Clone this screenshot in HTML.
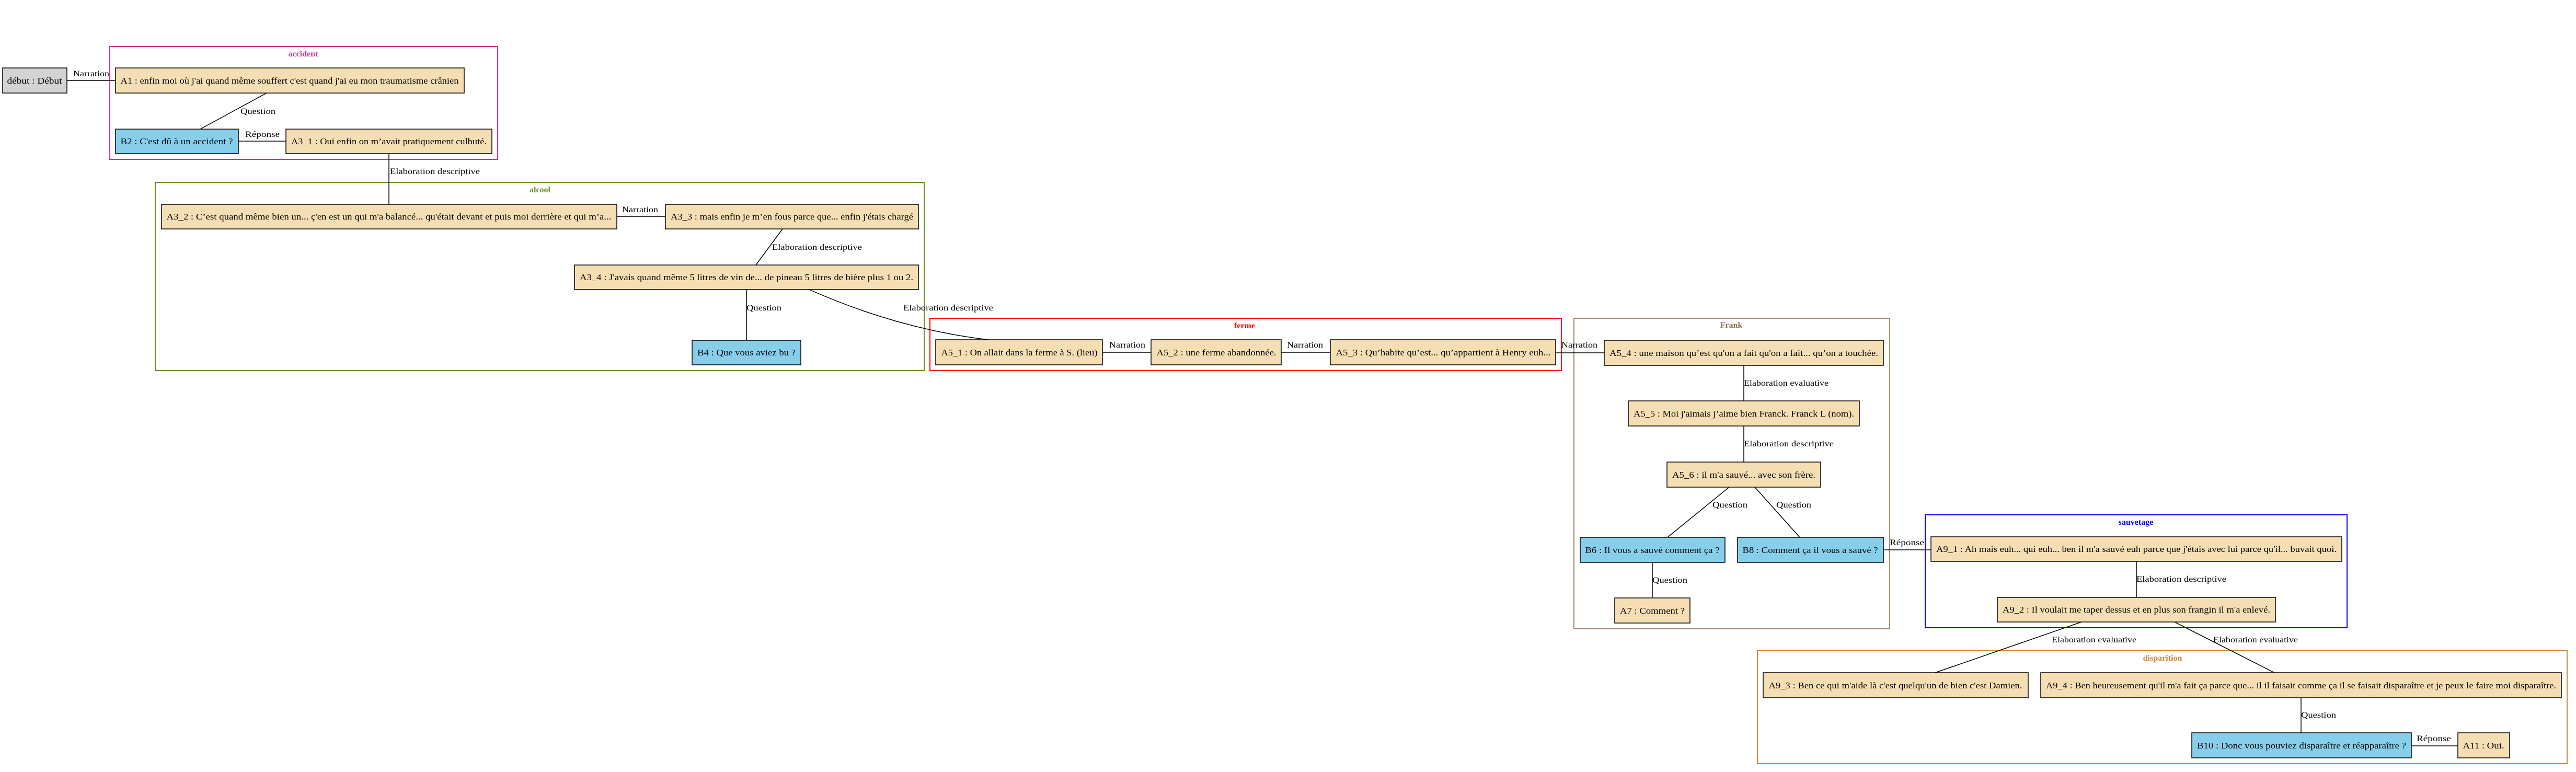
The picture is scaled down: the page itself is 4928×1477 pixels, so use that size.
<!DOCTYPE html>
<html><head><meta charset="utf-8"><style>
html,body{margin:0;padding:0;background:#fff;}
svg{display:block;}
text{font-family:"Liberation Serif",serif;fill:#000;}
.n{font-size:17px;}
.l{font-size:16px;}
.t{font-size:16px;font-weight:bold;}
.e{stroke:#000;stroke-width:1.5;fill:none;}
</style></head><body>
<svg width="4928" height="1477" viewBox="0 0 4928 1477" xmlns="http://www.w3.org/2000/svg">
<!-- clusters -->
<rect x="210" y="89" width="742" height="216" fill="none" stroke="#cc3399" stroke-width="2"/>
<text class="t" x="580" y="108" text-anchor="middle" style="fill:#cc3399">accident</text>
<rect x="297" y="349" width="1471" height="360" fill="none" stroke="#6b8e23" stroke-width="2"/>
<text class="t" x="1033" y="368" text-anchor="middle" style="fill:#6b8e23">alcool</text>
<rect x="1779" y="609" width="1208" height="100" fill="none" stroke="#ff0000" stroke-width="2"/>
<text class="t" x="2381" y="628" text-anchor="middle" style="fill:#ff0000">ferme</text>
<rect x="3011" y="609" width="604" height="594" fill="none" stroke="#a08870" stroke-width="2"/>
<text class="t" x="3312" y="627" text-anchor="middle" style="fill:#8b7355">Frank</text>
<rect x="3683" y="985" width="807" height="216" fill="none" stroke="#0000ff" stroke-width="2"/>
<text class="t" x="4086" y="1004" text-anchor="middle" style="fill:#0000ff">sauvetage</text>
<rect x="3362" y="1245" width="1549" height="216" fill="none" stroke="#cd853f" stroke-width="2"/>
<text class="t" x="4137" y="1264" text-anchor="middle" style="fill:#cd853f">disparition</text>

<!-- edges -->
<g class="e">
<line x1="128" y1="154" x2="221" y2="154"/>
<line x1="510" y1="178" x2="383" y2="247"/>
<line x1="456" y1="270" x2="547" y2="270"/>
<line x1="744" y1="294" x2="744" y2="391"/>
<line x1="1180" y1="414" x2="1273" y2="414"/>
<line x1="1497" y1="438" x2="1446" y2="507"/>
<line x1="1428" y1="554" x2="1428" y2="651"/>
<path d="M1548 554 Q1720 630 1891 650"/>
<line x1="2109" y1="674" x2="2202" y2="674"/>
<line x1="2451" y1="674" x2="2545" y2="674"/>
<line x1="2976" y1="675" x2="3069" y2="675"/>
<line x1="3336" y1="699" x2="3336" y2="767"/>
<line x1="3336" y1="815" x2="3336" y2="884"/>
<line x1="3308" y1="932" x2="3190" y2="1028"/>
<line x1="3357" y1="932" x2="3443" y2="1028"/>
<line x1="3161" y1="1076" x2="3161" y2="1144"/>
<line x1="3603" y1="1052" x2="3694" y2="1052"/>
<line x1="4087" y1="1074" x2="4087" y2="1143"/>
<line x1="3982" y1="1190" x2="3702" y2="1287"/>
<line x1="4160" y1="1190" x2="4351" y2="1287"/>
<line x1="4402" y1="1335" x2="4402" y2="1402"/>
<line x1="4613" y1="1427" x2="4702" y2="1427"/>
</g>
<!-- edge labels -->
<g class="l">
<text x="140" y="146" textLength="69" lengthAdjust="spacingAndGlyphs">Narration</text>
<text x="460" y="218" textLength="67" lengthAdjust="spacingAndGlyphs">Question</text>
<text x="469" y="262" textLength="66" lengthAdjust="spacingAndGlyphs">Réponse</text>
<text x="746" y="333" textLength="172" lengthAdjust="spacingAndGlyphs">Elaboration descriptive</text>
<text x="1190" y="406" textLength="69" lengthAdjust="spacingAndGlyphs">Narration</text>
<text x="1477" y="478" textLength="172" lengthAdjust="spacingAndGlyphs">Elaboration descriptive</text>
<text x="1428" y="594" textLength="67" lengthAdjust="spacingAndGlyphs">Question</text>
<text x="1728" y="594" textLength="172" lengthAdjust="spacingAndGlyphs">Elaboration descriptive</text>
<text x="2122" y="665" textLength="69" lengthAdjust="spacingAndGlyphs">Narration</text>
<text x="2462" y="665" textLength="69" lengthAdjust="spacingAndGlyphs">Narration</text>
<text x="2987" y="665" textLength="69" lengthAdjust="spacingAndGlyphs">Narration</text>
<text x="3336" y="738" textLength="162" lengthAdjust="spacingAndGlyphs">Elaboration evaluative</text>
<text x="3336" y="854" textLength="172" lengthAdjust="spacingAndGlyphs">Elaboration descriptive</text>
<text x="3276" y="971" textLength="67" lengthAdjust="spacingAndGlyphs">Question</text>
<text x="3398" y="971" textLength="67" lengthAdjust="spacingAndGlyphs">Question</text>
<text x="3161" y="1115" textLength="67" lengthAdjust="spacingAndGlyphs">Question</text>
<text x="3615" y="1043" textLength="66" lengthAdjust="spacingAndGlyphs">Réponse</text>
<text x="4087" y="1113" textLength="172" lengthAdjust="spacingAndGlyphs">Elaboration descriptive</text>
<text x="3925" y="1229" textLength="162" lengthAdjust="spacingAndGlyphs">Elaboration evaluative</text>
<text x="4234" y="1229" textLength="162" lengthAdjust="spacingAndGlyphs">Elaboration evaluative</text>
<text x="4402" y="1373" textLength="67" lengthAdjust="spacingAndGlyphs">Question</text>
<text x="4623" y="1418" textLength="66" lengthAdjust="spacingAndGlyphs">Réponse</text>
</g>

<!-- nodes -->
<g class="n" stroke="#000" stroke-width="1.5">
<rect x="5" y="130" width="123" height="48" fill="#d3d3d3"/>
<rect x="221" y="130" width="667" height="48" fill="#f5deb3"/>
<rect x="221" y="247" width="235" height="47" fill="#87ceeb"/>
<rect x="547" y="247" width="394" height="47" fill="#f5deb3"/>
<rect x="309" y="391" width="871" height="47" fill="#f5deb3"/>
<rect x="1273" y="391" width="484" height="47" fill="#f5deb3"/>
<rect x="1099" y="507" width="658" height="47" fill="#f5deb3"/>
<rect x="1324" y="651" width="208" height="47" fill="#87ceeb"/>
<rect x="1790" y="650" width="319" height="48" fill="#f5deb3"/>
<rect x="2202" y="650" width="249" height="48" fill="#f5deb3"/>
<rect x="2545" y="650" width="431" height="48" fill="#f5deb3"/>
<rect x="3069" y="651" width="534" height="48" fill="#f5deb3"/>
<rect x="3115" y="767" width="442" height="48" fill="#f5deb3"/>
<rect x="3189" y="884" width="294" height="48" fill="#f5deb3"/>
<rect x="3023" y="1028" width="277" height="48" fill="#87ceeb"/>
<rect x="3324" y="1028" width="279" height="48" fill="#87ceeb"/>
<rect x="3089" y="1144" width="144" height="48" fill="#f5deb3"/>
<rect x="3694" y="1027" width="786" height="47" fill="#f5deb3"/>
<rect x="3821" y="1143" width="532" height="47" fill="#f5deb3"/>
<rect x="3373" y="1287" width="507" height="48" fill="#f5deb3"/>
<rect x="3904" y="1287" width="996" height="48" fill="#f5deb3"/>
<rect x="4193" y="1402" width="420" height="48" fill="#87ceeb"/>
<rect x="4702" y="1402" width="99" height="48" fill="#f5deb3"/>
</g>
<g class="n" text-anchor="middle">
<text x="66" y="160" textLength="105" lengthAdjust="spacingAndGlyphs">début : Début</text>
<text x="554" y="160" textLength="647" lengthAdjust="spacingAndGlyphs">A1 : enfin moi où j'ai quand même souffert c'est quand j'ai eu mon traumatisme crânien</text>
<text x="338" y="276" textLength="215" lengthAdjust="spacingAndGlyphs">B2 : C'est dû à un accident ?</text>
<text x="744" y="276" textLength="374" lengthAdjust="spacingAndGlyphs">A3_1 : Oui enfin on m’avait pratiquement culbuté.</text>
<text x="744" y="420" textLength="851" lengthAdjust="spacingAndGlyphs">A3_2 : C’est quand même bien un...  ç'en est un qui m'a balancé... qu'était devant et puis moi derrière et qui m’a...</text>
<text x="1515" y="420" textLength="464" lengthAdjust="spacingAndGlyphs">A3_3 : mais enfin je m’en fous parce que... enfin j'étais chargé</text>
<text x="1428" y="536" textLength="638" lengthAdjust="spacingAndGlyphs">A3_4 : J'avais quand même 5 litres de vin de... de  pineau 5 litres de bière plus 1 ou 2.</text>
<text x="1428" y="680" textLength="188" lengthAdjust="spacingAndGlyphs">B4 : Que vous aviez bu ?</text>
<text x="1950" y="680" textLength="299" lengthAdjust="spacingAndGlyphs">A5_1 : On allait dans la ferme à S. (lieu)</text>
<text x="2327" y="680" textLength="229" lengthAdjust="spacingAndGlyphs">A5_2 : une ferme abandonnée.</text>
<text x="2761" y="680" textLength="411" lengthAdjust="spacingAndGlyphs">A5_3 : Qu’habite qu’est... qu’appartient à Henry euh...</text>
<text x="3336" y="681" textLength="514" lengthAdjust="spacingAndGlyphs">A5_4 : une maison qu’est qu'on a fait qu'on a fait... qu’on a touchée.</text>
<text x="3336" y="797" textLength="422" lengthAdjust="spacingAndGlyphs">A5_5 : Moi j'aimais j’aime bien Franck. Franck L (nom).</text>
<text x="3336" y="914" textLength="274" lengthAdjust="spacingAndGlyphs">A5_6 : il m'a sauvé... avec son frère.</text>
<text x="3161" y="1058" textLength="257" lengthAdjust="spacingAndGlyphs">B6 : Il vous a sauvé comment ça ?</text>
<text x="3463" y="1058" textLength="259" lengthAdjust="spacingAndGlyphs">B8 : Comment ça il vous a sauvé ?</text>
<text x="3161" y="1174" textLength="124" lengthAdjust="spacingAndGlyphs">A7 : Comment ?</text>
<text x="4087" y="1056" textLength="766" lengthAdjust="spacingAndGlyphs">A9_1 : Ah mais euh... qui euh... ben il m'a sauvé euh parce que j'étais avec lui parce qu'il... buvait quoi.</text>
<text x="4087" y="1172" textLength="512" lengthAdjust="spacingAndGlyphs">A9_2 : Il voulait me taper dessus et en plus son frangin il m'a enlevé.</text>
<text x="3626" y="1317" textLength="485" lengthAdjust="spacingAndGlyphs">A9_3 : Ben ce qui m'aide là c'est quelqu'un de bien c'est Damien.</text>
<text x="4402" y="1317" textLength="976" lengthAdjust="spacingAndGlyphs">A9_4 : Ben heureusement qu'il m'a fait ça parce que... il il faisait comme ça il se faisait disparaître et je peux le faire moi disparaître.</text>
<text x="4403" y="1432" textLength="400" lengthAdjust="spacingAndGlyphs">B10 : Donc vous pouviez disparaître et réapparaître ?</text>
<text x="4751" y="1432" textLength="79" lengthAdjust="spacingAndGlyphs">A11 : Oui.</text>
</g>
</svg>
</body></html>
